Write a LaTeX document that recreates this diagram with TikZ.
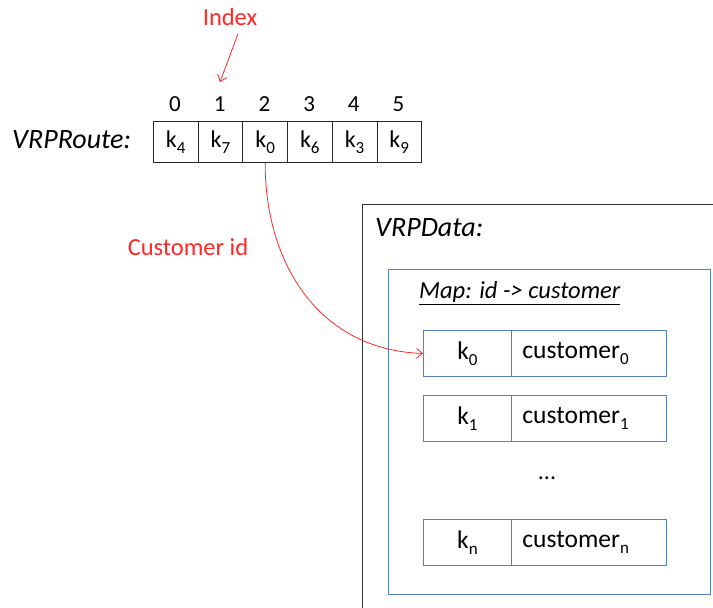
\documentclass[tikz,border=0pt]{standalone}
\usepackage{fontspec}
\setmainfont{Carlito}
\usetikzlibrary{arrows.meta}
\definecolor{boxblue}{RGB}{84,130,190}
\definecolor{arrred}{RGB}{255,40,40}
\newcommand{\ksub}[1]{\raisebox{-0.25em}{\fontsize{17}{17}\selectfont #1}}
\begin{document}
\begin{tikzpicture}[x=1pt,y=-1pt,
  cell/.style={draw=black!85,line width=0.8pt,minimum width=44.7pt,minimum height=41pt,inner sep=0pt,anchor=north west,font=\fontsize{24}{24}\selectfont},
  kcell/.style={draw=boxblue,line width=0.9pt,minimum width=88pt,minimum height=46pt,inner sep=0pt,anchor=north west,font=\fontsize{25.5}{25.5}\selectfont},
  vcell/.style={draw=boxblue,line width=0.9pt,minimum width=155pt,minimum height=46pt,inner ysep=0pt,inner xsep=11pt,text width=133pt,align=left,anchor=north west,font=\fontsize{25.5}{25.5}\selectfont},
  idx/.style={font=\fontsize{23}{23}\selectfont,inner sep=0pt},
  redtxt/.style={text=arrred,font=\fontsize{24.5}{24.5}\selectfont,inner sep=0pt},
  redarr/.style={draw=arrred,line width=0.8pt,-{Straight Barb[length=6pt,width=10pt]}}]
\useasboundingbox (0,0) rectangle (713,608);
\clip (0,0) rectangle (713,608);
% VRPRoute
\node[font=\fontsize{28}{28}\selectfont\itshape,anchor=west,inner sep=0pt] (route) at (12,140) {VRPRoute:};
\foreach \i/\k in {0/4,1/7,2/0,3/6,4/3,5/9}{
  \node[cell] (c\i) at (153+\i*44.7,121) {k\ksub{\k}};
  \node[idx] (i\i) at (175+\i*44.7,104) {\i};
}
\node[redtxt] (index) at (230,17) {Index};
\coordinate (idxtip) at (220,82);
\draw[redarr] (index.south) ++(8,8) -- (idxtip);
% VRPData
\node[draw=black!80,line width=0.8pt,minimum width=370pt,minimum height=420pt,anchor=north west,inner sep=0pt] (data) at (362,204) {};
\node[font=\fontsize{28}{28}\selectfont\itshape,anchor=west,inner sep=0pt] (datalbl) at (375,228) {VRPData:};
\node[draw=boxblue,line width=0.9pt,minimum width=322pt,minimum height=325pt,anchor=north west,inner sep=0pt] (map) at (388,269) {};
\node[font=\fontsize{24.5}{24.5}\selectfont\itshape,anchor=west,inner sep=0pt] (maplbl) at (419,293) {\underline{Map: id -> customer}};
\node[kcell] (k0) at (423,330) {k\ksub{0}};
\node[vcell] (v0) at (511,330) {customer\ksub{0}};
\node[kcell] (k1) at (423,395) {k\ksub{1}};
\node[vcell] (v1) at (511,395) {customer\ksub{1}};
\node[font=\fontsize{24}{24}\selectfont,inner sep=0pt] (dots) at (547,478) {...};
\node[kcell] (kn) at (423,519) {k\ksub{n}};
\node[vcell] (vn) at (511,519) {customer\ksub{n}};
% customer id arrow
\node[redtxt] (custid) at (188,247) {Customer id};
\draw[redarr] (c2.south) .. controls (265,265) and (320,350) .. (k0.west);
\end{tikzpicture}
\end{document}
